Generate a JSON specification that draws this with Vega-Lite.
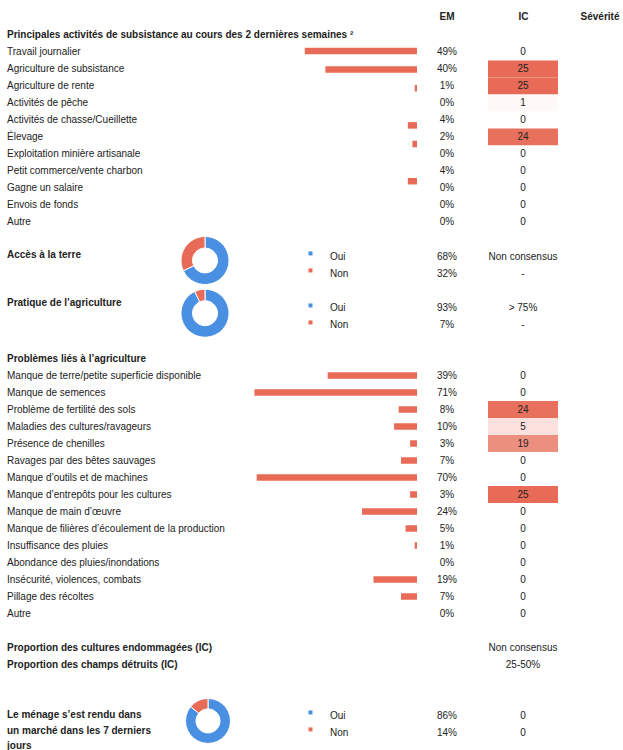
{
  "$schema": "https://vega.github.io/schema/vega-lite/v6.json",
  "autosize": {"type": "pad"},
  "padding": 0,
  "background": "#ffffff",
  "config": {
    "view": {"stroke": null},
    "text": {"font": "Liberation Sans", "fontSize": 10, "color": "#222222"},
    "title": {"font": "Liberation Sans", "fontSize": 10, "fontWeight": "bold", "color": "#222222"}
  },
  "datasets": {
    "colonnes": [{"colonne": "EM"}, {"colonne": "IC"}, {"colonne": "Sévérité"}],
    "act": [
      {"libelle": "Travail journalier", "em": 0.49, "ic": 0},
      {"libelle": "Agriculture de subsistance", "em": 0.40, "ic": 25},
      {"libelle": "Agriculture de rente", "em": 0.01, "ic": 25},
      {"libelle": "Activités de pêche", "em": 0.0, "ic": 1},
      {"libelle": "Activités de chasse/Cueillette", "em": 0.04, "ic": 0},
      {"libelle": "Élevage", "em": 0.02, "ic": 24},
      {"libelle": "Exploitation minière artisanale", "em": 0.0, "ic": 0},
      {"libelle": "Petit commerce/vente charbon", "em": 0.04, "ic": 0},
      {"libelle": "Gagne un salaire", "em": 0.0, "ic": 0},
      {"libelle": "Envois de fonds", "em": 0.0, "ic": 0},
      {"libelle": "Autre", "em": 0.0, "ic": 0}
    ],
    "prob": [
      {"libelle": "Manque de terre/petite superficie disponible", "em": 0.39, "ic": 0},
      {"libelle": "Manque de semences", "em": 0.71, "ic": 0},
      {"libelle": "Problème de fertilité des sols", "em": 0.08, "ic": 24},
      {"libelle": "Maladies des cultures/ravageurs", "em": 0.10, "ic": 5},
      {"libelle": "Présence de chenilles", "em": 0.03, "ic": 19},
      {"libelle": "Ravages par des bêtes sauvages", "em": 0.07, "ic": 0},
      {"libelle": "Manque d’outils et de machines", "em": 0.70, "ic": 0},
      {"libelle": "Manque d’entrepôts pour les cultures", "em": 0.03, "ic": 25},
      {"libelle": "Manque de main d’œuvre", "em": 0.24, "ic": 0},
      {"libelle": "Manque de filières d’écoulement de la production", "em": 0.05, "ic": 0},
      {"libelle": "Insuffisance des pluies", "em": 0.01, "ic": 0},
      {"libelle": "Abondance des pluies/inondations", "em": 0.0, "ic": 0},
      {"libelle": "Insécurité, violences, combats", "em": 0.19, "ic": 0},
      {"libelle": "Pillage des récoltes", "em": 0.07, "ic": 0},
      {"libelle": "Autre", "em": 0.0, "ic": 0}
    ],
    "acces": [
      {"libelle": "Accès à la terre", "cat": "Oui", "em": 0.68, "ic": "Non consensus"},
      {"cat": "Non", "em": 0.32, "ic": "-"}
    ],
    "pratique": [
      {"libelle": "Pratique de l’agriculture", "cat": "Oui", "em": 0.93, "ic": "> 75%"},
      {"cat": "Non", "em": 0.07, "ic": "-"}
    ],
    "prop": [
      {"libelle": "Proportion des cultures endommagées (IC)", "ic": "Non consensus"},
      {"libelle": "Proportion des champs détruits (IC)", "ic": "25-50%"}
    ],
    "marche": [
      {"libelle": "Le ménage s’est rendu dans\nun marché dans les 7 derniers\njours", "cat": "Oui", "em": 0.86, "ic": "0"},
      {"cat": "Non", "em": 0.14, "ic": "0"}
    ]
  },
  "vconcat": [
    {
      "width": 623, "height": 34,
      "data": {"name": "colonnes"},
      "mark": {"type": "text", "fontWeight": "bold", "baseline": "middle"},
      "encoding": {
        "x": {"field": "colonne", "type": "nominal", "axis": null, "scale": {"type": "point", "domain": ["EM", "IC", "Sévérité"], "range": [447, 600], "padding": 0}},
        "text": {"field": "colonne", "type": "nominal"}
      }
    },
    {
      "width": 623, "height": 196.5,
      "title": {"text": "Principales activités de subsistance au cours des 2 dernières semaines ²", "anchor": "start", "frame": "group", "dx": 7, "offset": -14, "baseline": "alphabetic"},
      "data": {"name": "act"},
      "resolve": {"scale": {"x": "independent", "y": "independent"}},
      "layer": [
        {
          "mark": {"type": "text", "align": "left", "baseline": "middle"},
          "encoding": {
            "x": {"datum": "libellé", "type": "nominal", "axis": null, "scale": {"type": "point", "domain": ["libellé", "graphique"], "range": [7, 205], "padding": 0}},
            "y": {"field": "libelle", "type": "nominal", "sort": null, "axis": null, "scale": {"type": "band", "paddingInner": 0, "paddingOuter": 0.2794, "align": 1}},
            "text": {"field": "libelle", "type": "nominal"}
          }
        },
        {
          "mark": {"type": "bar", "height": 6.5, "color": "#E76B56"},
          "encoding": {
            "x": {"field": "em", "type": "quantitative", "axis": null, "scale": {"domain": [0, 1.821], "range": [417, 0], "nice": false}},
            "y": {"field": "libelle", "type": "nominal", "sort": null, "axis": null, "scale": {"type": "point", "padding": 0, "range": [17, 203]}}
          }
        },
        {
          "mark": {"type": "text", "baseline": "middle"},
          "encoding": {
            "x": {"datum": "EM", "type": "nominal", "axis": null, "scale": {"type": "point", "domain": ["EM", "IC", "Sévérité"], "range": [447, 599], "padding": 0}},
            "y": {"field": "libelle", "type": "nominal", "sort": null, "axis": null, "scale": {"type": "band", "paddingInner": 0, "paddingOuter": 0.2794, "align": 1}},
            "text": {"field": "em", "type": "quantitative", "format": ".0%"}
          }
        },
        {
          "mark": {"type": "rect", "width": 70, "opacity": 1},
          "encoding": {
            "x": {"datum": "IC", "type": "nominal", "axis": null, "scale": {"type": "point", "domain": ["EM", "IC", "Sévérité"], "range": [447, 599], "padding": 0}},
            "y": {"field": "libelle", "type": "nominal", "sort": null, "axis": null, "scale": {"type": "band", "paddingInner": 0, "paddingOuter": 0.2794, "align": 1}},
            "fill": {"field": "ic", "type": "quantitative", "legend": null, "scale": {"domain": [0, 25], "range": ["#ffffff", "#E76B56"], "interpolate": "rgb"}}
          }
        },
        {
          "mark": {"type": "text", "baseline": "middle"},
          "encoding": {
            "x": {"datum": "IC", "type": "nominal", "axis": null, "scale": {"type": "point", "domain": ["EM", "IC", "Sévérité"], "range": [447, 599], "padding": 0}},
            "y": {"field": "libelle", "type": "nominal", "sort": null, "axis": null, "scale": {"type": "band", "paddingInner": 0, "paddingOuter": 0.2794, "align": 1}},
            "text": {"field": "ic", "type": "quantitative"}
          }
        }
      ]
    },
    {
      "width": 623, "height": 51,
      "data": {"name": "acces"},
      "resolve": {"scale": {"x": "independent"}},
      "encoding": {
        "y": {"field": "cat", "type": "nominal", "sort": null, "axis": null, "scale": {"type": "band", "paddingInner": 0, "paddingOuter": 0.5, "align": 1}}
      },
      "layer": [
        {
          "transform": [{"filter": "isValid(datum.libelle)"}],
          "mark": {"type": "text", "align": "left", "baseline": "middle", "fontWeight": "bold"},
          "encoding": {
            "x": {"datum": "libellé", "type": "nominal", "axis": null, "scale": {"type": "point", "domain": ["libellé", "graphique"], "range": [7, 205], "padding": 0}},
            "y": {"datum": "Oui", "type": "nominal", "bandPosition": 0.44},
            "text": {"field": "libelle", "type": "nominal"}
          }
        },
        {
          "mark": {"type": "arc", "innerRadius": 12.5, "outerRadius": 24, "stroke": "#ffffff", "strokeWidth": 1},
          "encoding": {
            "x": {"datum": "graphique", "type": "nominal", "axis": null, "scale": {"type": "point", "domain": ["libellé", "graphique"], "range": [7, 205], "padding": 0}},
            "y": {"datum": "Oui", "type": "nominal", "bandPosition": 0.735},
            "theta": {"field": "em", "type": "quantitative"},
            "color": {"field": "cat", "type": "nominal", "legend": null, "scale": {"domain": ["Oui", "Non"], "range": ["#4A90E2", "#E76B56"]}},
            "order": {"field": "cat", "sort": "descending"}
          }
        },
        {
          "mark": {"type": "point", "shape": "square", "filled": true, "size": 16, "opacity": 1},
          "encoding": {
            "x": {"datum": "puce", "type": "nominal", "axis": null, "scale": {"type": "point", "domain": ["puce", "modalité"], "range": [310.5, 330], "padding": 0}},
            "y": {"field": "cat", "type": "nominal", "sort": null, "bandPosition": 0.32},
            "color": {"field": "cat", "type": "nominal", "legend": null, "scale": {"domain": ["Oui", "Non"], "range": ["#4A90E2", "#E76B56"]}}
          }
        },
        {
          "mark": {"type": "text", "align": "left", "baseline": "middle"},
          "encoding": {
            "x": {"datum": "modalité", "type": "nominal", "axis": null, "scale": {"type": "point", "domain": ["puce", "modalité"], "range": [310.5, 330], "padding": 0}},
            "text": {"field": "cat", "type": "nominal"}
          }
        },
        {
          "mark": {"type": "text", "baseline": "middle"},
          "encoding": {
            "x": {"datum": "EM", "type": "nominal", "axis": null, "scale": {"type": "point", "domain": ["EM", "IC", "Sévérité"], "range": [447, 599], "padding": 0}},
            "text": {"field": "em", "type": "quantitative", "format": ".0%"}
          }
        },
        {
          "mark": {"type": "text", "baseline": "middle"},
          "encoding": {
            "x": {"datum": "IC", "type": "nominal", "axis": null, "scale": {"type": "point", "domain": ["EM", "IC", "Sévérité"], "range": [447, 599], "padding": 0}},
            "text": {"field": "ic", "type": "nominal"}
          }
        }
      ]
    },
    {
      "width": 623, "height": 52,
      "data": {"name": "pratique"},
      "resolve": {"scale": {"x": "independent"}},
      "encoding": {
        "y": {"field": "cat", "type": "nominal", "sort": null, "axis": null, "scale": {"type": "band", "paddingInner": 0, "paddingOuter": 0.5294, "align": 1}}
      },
      "layer": [
        {
          "transform": [{"filter": "isValid(datum.libelle)"}],
          "mark": {"type": "text", "align": "left", "baseline": "middle", "fontWeight": "bold"},
          "encoding": {
            "x": {"datum": "libellé", "type": "nominal", "axis": null, "scale": {"type": "point", "domain": ["libellé", "graphique"], "range": [7, 205], "padding": 0}},
            "y": {"datum": "Oui", "type": "nominal", "bandPosition": 0.2},
            "text": {"field": "libelle", "type": "nominal"}
          }
        },
        {
          "mark": {"type": "arc", "innerRadius": 12.5, "outerRadius": 24, "stroke": "#ffffff", "strokeWidth": 1},
          "encoding": {
            "x": {"datum": "graphique", "type": "nominal", "axis": null, "scale": {"type": "point", "domain": ["libellé", "graphique"], "range": [7, 205], "padding": 0}},
            "y": {"datum": "Oui", "type": "nominal", "bandPosition": 0.776},
            "theta": {"field": "em", "type": "quantitative"},
            "color": {"field": "cat", "type": "nominal", "legend": null, "scale": {"domain": ["Oui", "Non"], "range": ["#4A90E2", "#E76B56"]}},
            "order": {"field": "cat", "sort": "descending"}
          }
        },
        {
          "mark": {"type": "point", "shape": "square", "filled": true, "size": 16, "opacity": 1},
          "encoding": {
            "x": {"datum": "puce", "type": "nominal", "axis": null, "scale": {"type": "point", "domain": ["puce", "modalité"], "range": [310.5, 330], "padding": 0}},
            "y": {"field": "cat", "type": "nominal", "sort": null, "bandPosition": 0.32},
            "color": {"field": "cat", "type": "nominal", "legend": null, "scale": {"domain": ["Oui", "Non"], "range": ["#4A90E2", "#E76B56"]}}
          }
        },
        {
          "mark": {"type": "text", "align": "left", "baseline": "middle"},
          "encoding": {
            "x": {"datum": "modalité", "type": "nominal", "axis": null, "scale": {"type": "point", "domain": ["puce", "modalité"], "range": [310.5, 330], "padding": 0}},
            "text": {"field": "cat", "type": "nominal"}
          }
        },
        {
          "mark": {"type": "text", "baseline": "middle"},
          "encoding": {
            "x": {"datum": "EM", "type": "nominal", "axis": null, "scale": {"type": "point", "domain": ["EM", "IC", "Sévérité"], "range": [447, 599], "padding": 0}},
            "text": {"field": "em", "type": "quantitative", "format": ".0%"}
          }
        },
        {
          "mark": {"type": "text", "baseline": "middle"},
          "encoding": {
            "x": {"datum": "IC", "type": "nominal", "axis": null, "scale": {"type": "point", "domain": ["EM", "IC", "Sévérité"], "range": [447, 599], "padding": 0}},
            "text": {"field": "ic", "type": "nominal"}
          }
        }
      ]
    },
    {
      "width": 623, "height": 288,
      "title": {"text": "Problèmes liés à l’agriculture", "anchor": "start", "frame": "group", "dx": 7, "offset": -38, "baseline": "alphabetic"},
      "data": {"name": "prob"},
      "resolve": {"scale": {"x": "independent"}},
      "encoding": {
        "y": {"field": "libelle", "type": "nominal", "sort": null, "axis": null, "scale": {"type": "band", "paddingInner": 0, "paddingOuter": 0.97059, "align": 1}}
      },
      "layer": [
        {
          "mark": {"type": "text", "align": "left", "baseline": "middle"},
          "encoding": {
            "x": {"datum": "libellé", "type": "nominal", "axis": null, "scale": {"type": "point", "domain": ["libellé", "graphique"], "range": [7, 205], "padding": 0}},
            "text": {"field": "libelle", "type": "nominal"}
          }
        },
        {
          "mark": {"type": "bar", "height": 6.5, "color": "#E76B56"},
          "encoding": {
            "x": {"field": "em", "type": "quantitative", "axis": null, "scale": {"domain": [0, 1.821], "range": [417, 0], "nice": false}}
          }
        },
        {
          "mark": {"type": "text", "baseline": "middle"},
          "encoding": {
            "x": {"datum": "EM", "type": "nominal", "axis": null, "scale": {"type": "point", "domain": ["EM", "IC", "Sévérité"], "range": [447, 599], "padding": 0}},
            "text": {"field": "em", "type": "quantitative", "format": ".0%"}
          }
        },
        {
          "mark": {"type": "rect", "width": 70, "opacity": 1},
          "encoding": {
            "x": {"datum": "IC", "type": "nominal", "axis": null, "scale": {"type": "point", "domain": ["EM", "IC", "Sévérité"], "range": [447, 599], "padding": 0}},
            "fill": {"field": "ic", "type": "quantitative", "legend": null, "scale": {"domain": [0, 25], "range": ["#ffffff", "#E76B56"], "interpolate": "rgb"}}
          }
        },
        {
          "mark": {"type": "text", "baseline": "middle"},
          "encoding": {
            "x": {"datum": "IC", "type": "nominal", "axis": null, "scale": {"type": "point", "domain": ["EM", "IC", "Sévérité"], "range": [447, 599], "padding": 0}},
            "text": {"field": "ic", "type": "quantitative"}
          }
        }
      ]
    },
    {
      "width": 623, "height": 51,
      "data": {"name": "prop"},
      "resolve": {"scale": {"x": "independent"}},
      "encoding": {
        "y": {"field": "libelle", "type": "nominal", "sort": null, "axis": null, "scale": {"type": "band", "paddingInner": 0, "paddingOuter": 0.5, "align": 1}}
      },
      "layer": [
        {
          "mark": {"type": "text", "align": "left", "baseline": "middle", "fontWeight": "bold"},
          "encoding": {
            "x": {"datum": "libellé", "type": "nominal", "axis": null, "scale": {"type": "point", "domain": ["libellé", "graphique"], "range": [7, 205], "padding": 0}},
            "text": {"field": "libelle", "type": "nominal"}
          }
        },
        {
          "mark": {"type": "text", "baseline": "middle"},
          "encoding": {
            "x": {"datum": "IC", "type": "nominal", "axis": null, "scale": {"type": "point", "domain": ["EM", "IC", "Sévérité"], "range": [447, 599], "padding": 0}},
            "text": {"field": "ic", "type": "nominal"}
          }
        }
      ]
    },
    {
      "width": 623, "height": 68,
      "data": {"name": "marche"},
      "resolve": {"scale": {"x": "independent"}},
      "encoding": {
        "y": {"field": "cat", "type": "nominal", "sort": null, "axis": null, "scale": {"type": "band", "paddingInner": 0, "paddingOuter": 1, "align": 1}}
      },
      "layer": [
        {
          "transform": [{"filter": "isValid(datum.libelle)"}],
          "mark": {"type": "text", "align": "left", "baseline": "top", "fontWeight": "bold", "lineBreak": "\n", "lineHeight": 15.5},
          "encoding": {
            "x": {"datum": "libellé", "type": "nominal", "axis": null, "scale": {"type": "point", "domain": ["libellé", "graphique"], "range": [7, 208], "padding": 0}},
            "y": {"datum": "Oui", "type": "nominal", "bandPosition": 0.18},
            "text": {"field": "libelle", "type": "nominal"}
          }
        },
        {
          "mark": {"type": "arc", "innerRadius": 12, "outerRadius": 22.5, "stroke": "#ffffff", "strokeWidth": 1},
          "encoding": {
            "x": {"datum": "graphique", "type": "nominal", "axis": null, "scale": {"type": "point", "domain": ["libellé", "graphique"], "range": [7, 208], "padding": 0}},
            "y": {"datum": "Oui", "type": "nominal", "bandPosition": 0.82},
            "theta": {"field": "em", "type": "quantitative"},
            "color": {"field": "cat", "type": "nominal", "legend": null, "scale": {"domain": ["Oui", "Non"], "range": ["#4A90E2", "#E76B56"]}},
            "order": {"field": "cat", "sort": "descending"}
          }
        },
        {
          "mark": {"type": "point", "shape": "square", "filled": true, "size": 16, "opacity": 1},
          "encoding": {
            "x": {"datum": "puce", "type": "nominal", "axis": null, "scale": {"type": "point", "domain": ["puce", "modalité"], "range": [310.5, 330], "padding": 0}},
            "y": {"field": "cat", "type": "nominal", "sort": null, "bandPosition": 0.32},
            "color": {"field": "cat", "type": "nominal", "legend": null, "scale": {"domain": ["Oui", "Non"], "range": ["#4A90E2", "#E76B56"]}}
          }
        },
        {
          "mark": {"type": "text", "align": "left", "baseline": "middle"},
          "encoding": {
            "x": {"datum": "modalité", "type": "nominal", "axis": null, "scale": {"type": "point", "domain": ["puce", "modalité"], "range": [310.5, 330], "padding": 0}},
            "text": {"field": "cat", "type": "nominal"}
          }
        },
        {
          "mark": {"type": "text", "baseline": "middle"},
          "encoding": {
            "x": {"datum": "EM", "type": "nominal", "axis": null, "scale": {"type": "point", "domain": ["EM", "IC", "Sévérité"], "range": [447, 599], "padding": 0}},
            "text": {"field": "em", "type": "quantitative", "format": ".0%"}
          }
        },
        {
          "mark": {"type": "text", "baseline": "middle"},
          "encoding": {
            "x": {"datum": "IC", "type": "nominal", "axis": null, "scale": {"type": "point", "domain": ["EM", "IC", "Sévérité"], "range": [447, 599], "padding": 0}},
            "text": {"field": "ic", "type": "nominal"}
          }
        }
      ]
    }
  ],
  "spacing": 0,
  "bounds": "flush"
}
